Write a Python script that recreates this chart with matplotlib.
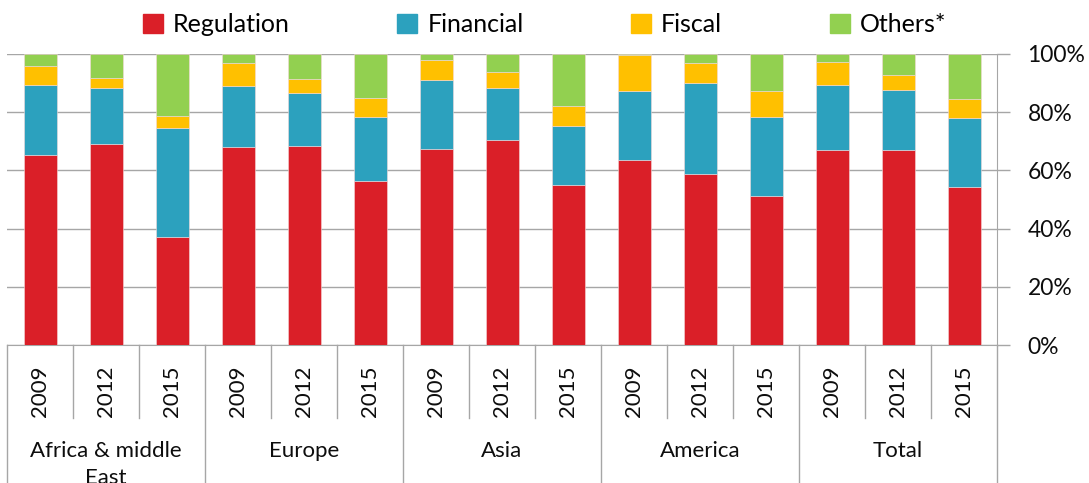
#!/usr/bin/env python3

import numpy as np
from matplotlib import pyplot as plt
from matplotlib.transforms import blended_transform_factory as blend
from matplotlib.patches import Patch

plt.rcParams['font.family'] = ['Lato', 'DejaVu Sans']

regions = ['Africa & middle\nEast', 'Europe', 'Asia', 'America', 'Total']
years = ['2009', '2012', '2015']
series = ['Regulation', 'Financial', 'Fiscal', 'Others*']

# Shares in %, one value per bar (region x year)
regulation = [65.3, 69.1, 37.1, 68.0, 68.4, 56.4, 67.4, 70.4, 55.0, 63.6, 58.8, 51.2, 67.0, 67.0, 54.2]
financial = [24.0, 19.2, 37.5, 21.0, 18.2, 22.0, 23.7, 17.9, 20.3, 23.7, 31.2, 27.2, 22.3, 20.6, 23.8]
fiscal = [6.6, 3.5, 4.1, 7.9, 4.8, 6.5, 6.8, 5.5, 6.8, 12.4, 6.9, 8.9, 8.0, 5.2, 6.5]
others = [4.1, 8.2, 21.3, 3.1, 8.6, 15.1, 2.1, 6.2, 17.9, 0.3, 3.1, 12.7, 2.7, 7.2, 15.5]

colors = ['#DA1F28', '#2CA1BE', '#FFC000', '#92D050']
grid = '#A6A6A6'
ink = '#0d0d0d'

W, H = 1089, 483
fig = plt.figure(figsize=(W / 100, H / 100), dpi=100)
ax = fig.add_axes([7 / W, 1 - 345 / H, (997 - 7) / W, (345 - 54) / H])

n = len(regions) * len(years)
x = np.arange(n)
bottom = np.zeros(n)
for vals, col in zip([regulation, financial, fiscal, others], colors):
    ax.bar(x, vals, 0.5, bottom=bottom, color=col, edgecolor='#f4d8da', linewidth=0.4, zorder=3)
    bottom += np.array(vals)

ax.set_xlim(-0.5, n - 0.5)
ax.set_ylim(0, 100)
ax.yaxis.tick_right()
ax.set_yticks(range(0, 101, 20))
ax.set_yticklabels([f'{v}%' for v in range(0, 101, 20)], fontsize=16.5, color=ink)
ax.tick_params(axis='y', length=9, width=1, color=grid, pad=13)
ax.set_xticks([])
ax.yaxis.grid(True, color=grid, linewidth=1, zorder=0)
for s in ['top', 'left']:
    ax.spines[s].set_visible(False)
ax.spines['bottom'].set_color(grid)
ax.spines['right'].set_color(grid)
ax.spines['right'].set_bounds(0, 100)

# category axis below the plot
tr = blend(ax.transData, fig.transFigure)
y0 = 1 - 345 / H
for i in range(n + 1):
    xb = i - 0.5
    yend = 0 if i % 3 == 0 else 1 - 418 / H
    ax.plot([xb, xb], [y0, yend], color=grid, linewidth=1, transform=tr, clip_on=False)
for i in range(n):
    ax.text(i, 1 - 391 / H, years[i % 3], rotation=90, ha='center', va='center',
            fontsize=16, color=ink, transform=tr)
for g, name in enumerate(regions):
    ax.text(3 * g + 1, 1 - 441 / H, name, ha='center', va='top', fontsize=16,
            color=ink, linespacing=1.45, transform=tr)

handles = [Patch(color=c) for c in colors]
fig.legend(handles, series, loc='center', bbox_to_anchor=(0.5, 1 - 25 / H), ncol=4,
           frameon=False, fontsize=18, handlelength=0.8, handleheight=0.8,
           handletextpad=0.4, columnspacing=4.3)

plt.savefig('out.png', dpi=100)
